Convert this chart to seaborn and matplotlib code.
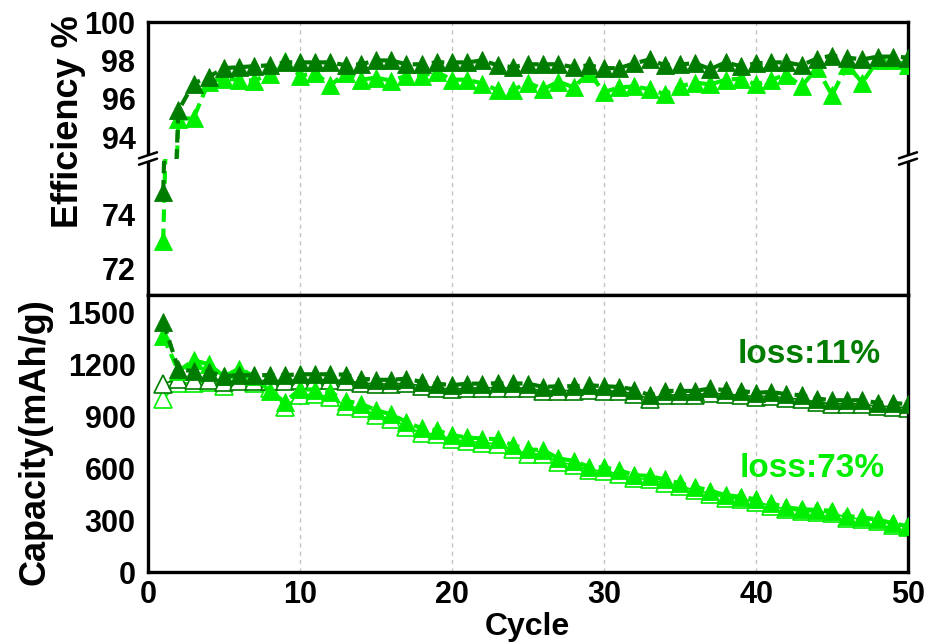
import matplotlib
matplotlib.use("Agg")
import matplotlib.pyplot as plt
import seaborn as sns
import pandas as pd
from matplotlib.lines import Line2D
from matplotlib.patches import Polygon
from matplotlib.ticker import FixedLocator

# ---------------- data ----------------
cycles = list(range(1, 51))

# coulombic efficiency (%)
eff_dark = [74.8, 95.4, 96.8, 97.15, 97.6, 97.65, 97.7, 97.75, 97.9, 97.9,
            97.9, 97.9, 97.75, 97.8, 98.0, 98.0, 97.8, 97.8, 97.9, 97.9,
            97.9, 98.0, 97.75, 97.65, 97.8, 97.8, 97.8, 97.65, 97.75, 97.6,
            97.6, 97.85, 98.05, 97.75, 97.8, 97.85, 97.55, 97.9, 97.7, 97.85,
            97.9, 97.9, 97.75, 98.1, 98.25, 98.15, 98.05, 98.2, 98.2, 98.15]
eff_light = [73.0, 94.95, 95.0, 96.9, 97.05, 97.0, 96.95, 97.3, 97.95, 97.2,
             97.35, 96.7, 97.35, 97.0, 97.1, 96.95, 97.2, 97.2, 97.4, 97.0,
             97.0, 96.8, 96.45, 96.45, 96.85, 96.5, 96.9, 96.6, 97.35, 96.35,
             96.6, 96.65, 96.5, 96.25, 96.65, 96.85, 96.75, 97.0, 97.05, 96.75,
             97.0, 97.25, 96.65, 97.6, 96.2, 97.75, 96.85, 98.0, 98.0, 97.75]

# specific capacity (mAh/g): filled = discharge, open = charge
cap_dark_dis = [1444, 1171, 1160, 1156, 1131, 1137, 1137, 1137, 1137, 1142,
                1142, 1142, 1140, 1117, 1110, 1110, 1117, 1098, 1088, 1079,
                1088, 1088, 1090, 1090, 1088, 1069, 1073, 1073, 1079, 1073,
                1069, 1054, 1021, 1046, 1046, 1046, 1060, 1050, 1046, 1035,
                1040, 1027, 1021, 1002, 992, 992, 992, 977, 977, 969]
cap_dark_chg = [1088, 1113, 1108, 1108, 1100, 1105, 1105, 1105, 1105, 1108,
                1108, 1108, 1106, 1092, 1086, 1086, 1090, 1074, 1064, 1055,
                1062, 1063, 1065, 1063, 1062, 1045, 1048, 1048, 1054, 1047,
                1043, 1030, 1000, 1022, 1022, 1023, 1034, 1026, 1021, 1012,
                1016, 1004, 998, 981, 972, 972, 970, 957, 955, 948]
cap_light_dis = [1361, 1160, 1223, 1200, 1130, 1175, 1130, 1045, 983, 1055,
                 1054, 1040, 988, 973, 935, 910, 867, 829, 819, 790,
                 777, 771, 767, 733, 708, 704, 656, 642, 608, 604,
                 588, 560, 554, 535, 512, 492, 469, 444, 435, 419,
                 396, 373, 363, 358, 354, 323, 315, 304, 281, 265]
cap_light_chg = [998, 1094, 1090, 1100, 1073, 1120, 1090, 1065, 954, 1021,
                 1026, 1010, 960, 945, 908, 882, 840, 803, 795, 766,
                 754, 746, 741, 708, 684, 680, 634, 620, 590, 583,
                 567, 541, 535, 516, 494, 474, 453, 429, 420, 405,
                 383, 362, 350, 347, 342, 314, 305, 297, 274, 258]

x_ticks = [0, 10, 20, 30, 40, 50]
x_minor = [5, 15, 25, 35, 45]
eff_hi_ticks = [94, 96, 98, 100]
eff_hi_minor = [95, 97, 99]
eff_lo_ticks = [72, 74]
eff_lo_minor = [73, 75]
cap_ticks = [0, 300, 600, 900, 1200, 1500]
cap_minor = [150, 450, 750, 1050, 1350]

loss_dark_text = "loss:11%"
loss_light_text = "loss:73%"

DARK = "#007d00"
LIGHT = "#00ee00"

df = pd.DataFrame({
    "cycle": cycles,
    "eff_dark": eff_dark, "eff_light": eff_light,
    "cap_dark_dis": cap_dark_dis, "cap_dark_chg": cap_dark_chg,
    "cap_light_dis": cap_light_dis, "cap_light_chg": cap_light_chg,
})

# ---------------- style ----------------
sns.set_theme(style="white")
plt.rcParams["font.family"] = ["Liberation Sans", "DejaVu Sans"]
plt.rcParams["font.weight"] = "bold"

W, H = 931, 644
fig = plt.figure(figsize=(W / 100, H / 100), dpi=100)


def fx(px):
    return px / W


def fy(py):
    return 1 - py / H


L, R = 148, 908
Y_TOP, Y_BRK, Y_MID, Y_BOT = 22, 158.5, 295, 572

ax_hi = fig.add_axes([fx(L), fy(Y_BRK), fx(R) - fx(L), fy(Y_TOP) - fy(Y_BRK)])
ax_lo = fig.add_axes([fx(L), fy(Y_MID), fx(R) - fx(L), fy(Y_BRK) - fy(Y_MID)])
ax_cap = fig.add_axes([fx(L), fy(Y_BOT), fx(R) - fx(L), fy(Y_MID) - fy(Y_BOT)])

TICK_FS = 22
SPINE_LW = 2.4
MS = 12.5
dash_thick = (0, (3, 1.6))

# efficiency on both halves of the broken axis
for ax in (ax_hi, ax_lo):
    sns.lineplot(data=df, x="cycle", y="eff_light", ax=ax, color=LIGHT,
                 linestyle=dash_thick, lw=3, marker="^", ms=MS,
                 mec=LIGHT, mew=0.6, sort=False, errorbar=None, zorder=3)
    sns.lineplot(data=df, x="cycle", y="eff_dark", ax=ax, color=DARK,
                 linestyle=dash_thick, lw=3, marker="^", ms=MS,
                 mec=DARK, mew=0.6, sort=False, errorbar=None, zorder=4)

# capacity: open markers for charge, filled for discharge
sns.lineplot(data=df, x="cycle", y="cap_light_chg", ax=ax_cap, color=LIGHT,
             linestyle="-", lw=1.3, marker="^", ms=MS, mfc="white",
             mec=LIGHT, mew=1.2, sort=False, errorbar=None, zorder=2)
sns.lineplot(data=df, x="cycle", y="cap_dark_chg", ax=ax_cap, color=DARK,
             linestyle="-", lw=1.3, marker="^", ms=MS, mfc="white",
             mec=DARK, mew=1.2, sort=False, errorbar=None, zorder=2.1)
sns.lineplot(data=df, x="cycle", y="cap_light_dis", ax=ax_cap, color=LIGHT,
             linestyle=dash_thick, lw=3, marker="^", ms=MS,
             mec=LIGHT, mew=0.6, sort=False, errorbar=None, zorder=3)
sns.lineplot(data=df, x="cycle", y="cap_dark_dis", ax=ax_cap, color=DARK,
             linestyle=dash_thick, lw=3, marker="^", ms=MS,
             mec=DARK, mew=0.6, sort=False, errorbar=None, zorder=3.1)

ax_hi.set_ylim(92.9, 100)
ax_lo.set_ylim(71, 76.06)
ax_cap.set_ylim(0, 1600)
for ax in (ax_hi, ax_lo, ax_cap):
    ax.set_xlim(0, 50)
    ax.set_xlabel("")
    ax.set_ylabel("")
    ax.set_axisbelow(True)
    ax.xaxis.set_major_locator(FixedLocator(x_ticks))
    ax.xaxis.set_minor_locator(FixedLocator(x_minor))
    ax.grid(False)
    ax.xaxis.grid(True, which="major", color="#c4c4c4", lw=1.0,
                  linestyle=(0, (3, 3)))
    for s in ax.spines.values():
        s.set_color("black")
        s.set_linewidth(SPINE_LW)
    ax.tick_params(axis="both", which="both", direction="in", color="black",
                   width=2, labelsize=TICK_FS, labelcolor="black")
    ax.tick_params(axis="both", which="major", length=7)
    ax.tick_params(axis="both", which="minor", length=4)
    ax.tick_params(axis="y", which="both", right=False, pad=9)
    ax.tick_params(axis="x", which="both", top=False, pad=6)

ax_hi.yaxis.set_major_locator(FixedLocator(eff_hi_ticks))
ax_hi.yaxis.set_minor_locator(FixedLocator(eff_hi_minor))
ax_lo.yaxis.set_major_locator(FixedLocator(eff_lo_ticks))
ax_lo.yaxis.set_minor_locator(FixedLocator(eff_lo_minor))
ax_cap.yaxis.set_major_locator(FixedLocator(cap_ticks))
ax_cap.yaxis.set_minor_locator(FixedLocator(cap_minor))

ax_hi.spines["bottom"].set_visible(False)
ax_lo.spines["top"].set_visible(False)
ax_hi.tick_params(axis="x", which="both", bottom=False, labelbottom=False)
ax_lo.tick_params(axis="x", which="both", labelbottom=False)

for ax in (ax_hi, ax_lo, ax_cap):
    for lab in ax.get_xticklabels() + ax.get_yticklabels():
        lab.set_fontweight("bold")

# axis-break marks on both sides of the efficiency panel
for xp in (L, R):
    cx, cy = fx(xp), fy(Y_BRK)
    dx, dy = 9 / W, 3 / H
    gap = 3.2 / H
    fig.add_artist(Polygon([(cx - dx, cy - dy - gap), (cx + dx, cy + dy - gap),
                            (cx + dx, cy + dy + gap), (cx - dx, cy - dy + gap)],
                           closed=True, transform=fig.transFigure,
                           facecolor="white", edgecolor="none", zorder=10))
    for off in (-gap, gap):
        fig.add_artist(Line2D([cx - dx, cx + dx],
                              [cy - dy + off, cy + dy + off],
                              transform=fig.transFigure, color="black",
                              lw=1.8, zorder=11))

# capacity-loss annotations
ax_cap.text(43.5, 1255, loss_dark_text, color=DARK, fontsize=24,
            fontweight="bold", ha="center", va="center")
ax_cap.text(43.7, 600, loss_light_text, color=LIGHT, fontsize=24,
            fontweight="bold", ha="center", va="center")

# axis titles
fig.text(fx(68), fy(122), "Efficiency %", rotation=90, ha="center",
         va="center", fontsize=26, fontweight="bold", color="black")
fig.text(fx(35), fy(442), "Capacity(mAh/g)", rotation=90, ha="center",
         va="center", fontsize=26, fontweight="bold", color="black")
fig.text(fx(527), fy(627), "Cycle", ha="center", va="center",
         fontsize=23, fontweight="bold", color="black")

fig.savefig("out.png", dpi=100, facecolor="white")
